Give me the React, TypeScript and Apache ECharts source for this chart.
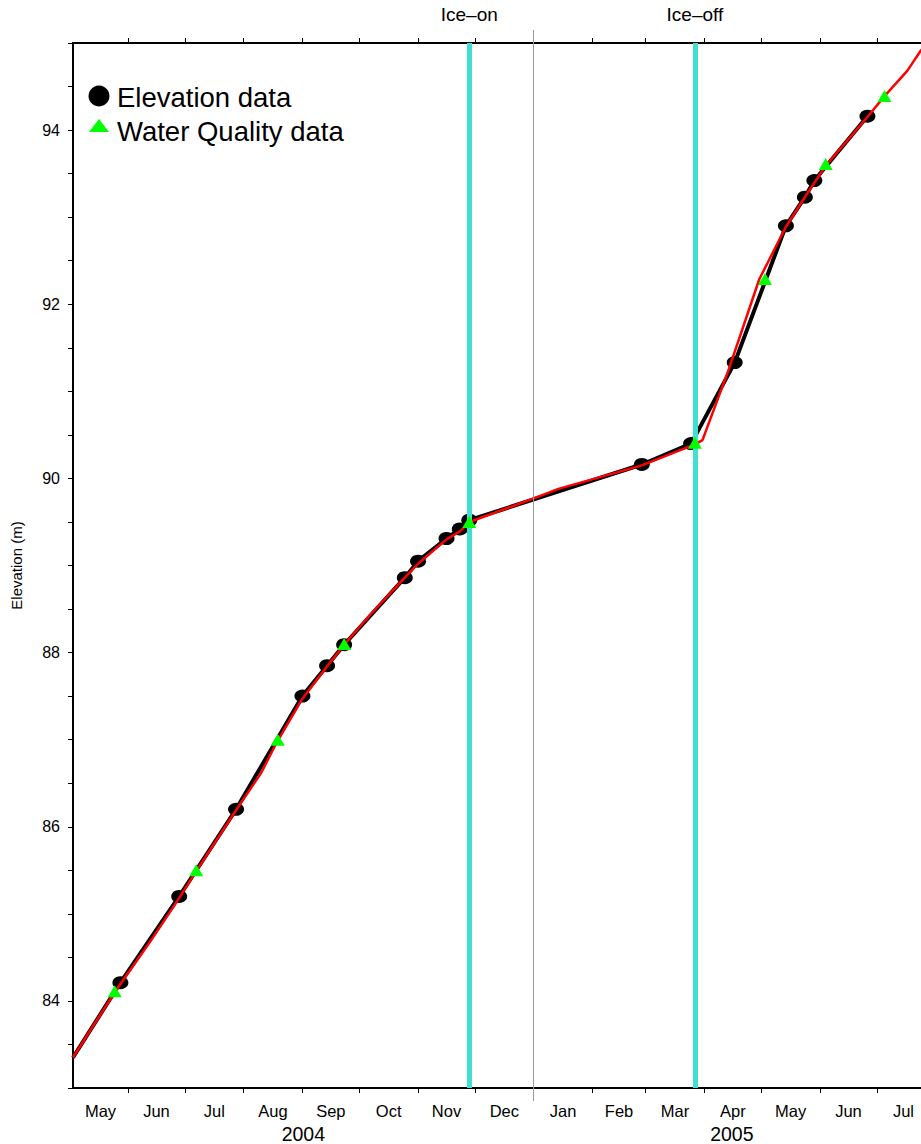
import React, { useEffect, useRef } from "react";
import * as echarts from "echarts";

const FONT = "'Liberation Sans', Arial, Helvetica, sans-serif";
const T = (s: string) => Date.parse(s + "T00:00:00Z");

// Axis range
const axisStart = "2004-05-03";
const axisEnd = "2005-07-29";
const yearBoundary = "2005-01-01";
const monthNames = ["Jan", "Feb", "Mar", "Apr", "May", "Jun", "Jul", "Aug", "Sep", "Oct", "Nov", "Dec"];
const monthStartDates = [
  "2004-06-01", "2004-07-01", "2004-08-01", "2004-09-01", "2004-10-01", "2004-11-01", "2004-12-01",
  "2005-01-01", "2005-02-01", "2005-03-01", "2005-04-01", "2005-05-01", "2005-06-01", "2005-07-01",
];

// Events
const iceOn = "2004-11-28";
const iceOff = "2005-03-27";

// Elevation data (black dots)
const elevDates = [
  "2004-05-28", "2004-06-28", "2004-07-28", "2004-09-01", "2004-09-14", "2004-09-23",
  "2004-10-25", "2004-11-01", "2004-11-16", "2004-11-23", "2004-11-28", "2005-02-27",
  "2005-03-25", "2005-04-17", "2005-05-14", "2005-05-24", "2005-05-29", "2005-06-26",
];
const elevValues = [
  84.21, 85.2, 86.2, 87.5, 87.85, 88.09,
  88.86, 89.05, 89.31, 89.42, 89.52, 90.16,
  90.4, 91.33, 92.9, 93.23, 93.42, 94.16,
];
// Start of the black line at the left frame
const elevLineStart = ["2004-05-03", 83.35] as const;

// Water quality data (green triangles)
const wqDates = [
  "2004-05-25", "2004-07-07", "2004-08-19", "2004-09-23", "2004-11-28",
  "2005-03-27", "2005-05-03", "2005-06-04", "2005-07-05",
];
const wqValues = [84.11, 85.5, 87.0, 88.1, 89.5, 90.41, 92.29, 93.61, 94.39];

// Continuous record (red line)
const redDates = [
  "2004-05-03", "2004-05-25", "2004-06-13", "2004-06-28", "2004-07-07", "2004-07-28",
  "2004-08-10", "2004-08-19", "2004-09-01", "2004-09-14", "2004-09-23", "2004-10-07",
  "2004-10-25", "2004-11-01", "2004-11-16", "2004-11-23", "2004-11-28", "2005-01-01",
  "2005-01-14", "2005-02-27", "2005-03-27", "2005-03-31", "2005-04-14", "2005-04-30",
  "2005-05-04", "2005-05-14", "2005-05-24", "2005-06-04", "2005-06-26", "2005-07-05",
  "2005-07-17", "2005-07-24", "2005-07-29",
];
const redValues = [
  83.35, 84.1, 84.69, 85.18, 85.49, 86.19,
  86.61, 86.99, 87.47, 87.84, 88.09, 88.44,
  88.86, 89.02, 89.3, 89.39, 89.5, 89.77,
  89.88, 90.15, 90.39, 90.44, 91.26, 92.29,
  92.46, 92.89, 93.23, 93.59, 94.15, 94.39,
  94.68, 94.91, 95.0,
];

const yTicks = { min: 83, max: 95, step: 0.5, labelEvery: 2 };

export default function App() {
  const ref = useRef<HTMLDivElement>(null);
  useEffect(() => {
    if (!ref.current) return;
    const chart = echarts.init(ref.current, null, { renderer: "svg" });
    const tMin = T(axisStart);
    const tMax = T(axisEnd);
    const tJan = T(yearBoundary);
    const starts = monthStartDates.map(T);
    const bounds = [tMin, ...starts, tMax];
    const mids: number[] = [];
    for (let i = 0; i < bounds.length - 1; i++) mids.push((bounds[i] + bounds[i + 1]) / 2);
    const yearMids = [(tMin + tJan) / 2, (tJan + tMax) / 2];

    const monthFmt = (v: number) => monthNames[new Date(v).getUTCMonth()];
    const yearFmt = (v: number) => String(new Date(v).getUTCFullYear());

    const elevData = elevDates.map((d, i) => [T(d), elevValues[i]]);
    const elevLine = [[T(elevLineStart[0]), elevLineStart[1]], ...elevData];
    const wqData = wqDates.map((d, i) => [T(d), wqValues[i]]);
    const redData = redDates.map((d, i) => [T(d), redValues[i]]);

    const baseX = { type: "value", min: tMin, max: tMax, splitLine: { show: false } };
    const iceLabel = { show: true, position: "end", formatter: "{b}", fontSize: 19, color: "#000", distance: 19, fontFamily: FONT };

    chart.setOption({
      animation: false,
      textStyle: { fontFamily: FONT },
      grid: { left: 73, top: 43, right: 30, bottom: 54, containLabel: false },
      xAxis: [
        {
          ...baseX,
          position: "bottom",
          axisLine: { show: true, lineStyle: { color: "#000", width: 2 } },
          axisTick: { show: true, customValues: starts, length: 5, lineStyle: { color: "#000", width: 1 } },
          axisLabel: { show: true, customValues: mids, formatter: monthFmt, fontSize: 16.5, color: "#000", margin: 14, fontFamily: FONT },
        },
        {
          ...baseX,
          position: "bottom",
          axisLine: { show: false },
          axisTick: { show: false },
          axisLabel: { show: true, customValues: yearMids, formatter: yearFmt, fontSize: 19.5, color: "#000", margin: 36, fontFamily: FONT },
        },
        {
          ...baseX,
          position: "top",
          axisLine: { show: true, lineStyle: { color: "#000", width: 2 } },
          axisTick: { show: true, customValues: starts, length: 5, lineStyle: { color: "#000", width: 1 } },
          axisLabel: { show: false },
        },
        {
          ...baseX,
          position: "bottom",
          axisLine: { show: false },
          axisTick: { show: true, customValues: [tJan], length: 13, lineStyle: { color: "#999", width: 1 } },
          axisLabel: { show: false },
        },
        {
          ...baseX,
          position: "top",
          axisLine: { show: false },
          axisTick: { show: true, customValues: [tJan], length: 13, lineStyle: { color: "#999", width: 1 } },
          axisLabel: { show: false },
        },
      ],
      yAxis: {
        type: "value",
        min: yTicks.min,
        max: yTicks.max,
        interval: yTicks.step,
        position: "left",
        name: "Elevation (m)",
        nameLocation: "middle",
        nameGap: 49,
        nameTextStyle: { fontSize: 15, color: "#000", fontFamily: FONT },
        axisLine: { show: true, lineStyle: { color: "#000", width: 2 } },
        axisTick: { show: true, length: 5, lineStyle: { color: "#000", width: 1 } },
        axisLabel: {
          fontSize: 16,
          color: "#000",
          margin: 13,
          fontFamily: FONT,
          formatter: (v: number) => (Math.abs(v % yTicks.labelEvery) < 1e-9 ? String(v) : ""),
        },
        splitLine: { show: false },
      },
      graphic: [
        { type: "circle", shape: { cx: 99, cy: 96, r: 10.5 }, style: { fill: "#000" } },
        { type: "polygon", shape: { points: [[89, 132], [109, 132], [99, 119]] }, style: { fill: "#00ff00" } },
        { type: "text", x: 117, y: 97, style: { text: "Elevation data", fontSize: 27.5, fontFamily: FONT, fill: "#000", verticalAlign: "middle" } },
        { type: "text", x: 117, y: 131, style: { text: "Water Quality data", fontSize: 27.5, fontFamily: FONT, fill: "#000", verticalAlign: "middle" } },
      ],
      series: [
        {
          type: "line",
          name: "markers",
          data: redData,
          symbol: "none",
          lineStyle: { opacity: 0 },
          silent: true,
          z: 1,
          markLine: {
            silent: true,
            symbol: ["none", "none"],
            animation: false,
            data: [
              { xAxis: tJan, lineStyle: { color: "#999", width: 1, type: "solid" }, label: { show: false } },
              { name: "Ice–on", xAxis: T(iceOn), lineStyle: { color: "#40e0d0", width: 5, type: "solid" }, label: iceLabel },
              { name: "Ice–off", xAxis: T(iceOff), lineStyle: { color: "#40e0d0", width: 5, type: "solid" }, label: iceLabel },
            ],
          },
        },
        {
          type: "line",
          name: "Elevation line",
          data: elevLine,
          symbol: "none",
          lineStyle: { color: "#000", width: 4 },
          clip: true,
          z: 2,
        },
        {
          type: "scatter",
          name: "Elevation data",
          data: elevData,
          symbol: "circle",
          symbolSize: [16, 13],
          itemStyle: { color: "#000", opacity: 1 },
          z: 3,
        },
        {
          type: "line",
          name: "Continuous",
          data: redData,
          symbol: "none",
          lineStyle: { color: "#ff0000", width: 2.5 },
          clip: true,
          z: 4,
        },
        {
          type: "scatter",
          name: "Water Quality data",
          data: wqData,
          symbol: "triangle",
          symbolSize: [14, 12],
          itemStyle: { color: "#00ff00", opacity: 1 },
          z: 5,
        },
      ],
    });
    return () => chart.dispose();
  }, []);
  return (
    <div style={{ position: "fixed", left: 0, top: 0, width: 921, height: 1144, overflow: "hidden", background: "#fff" }}>
      <div ref={ref} style={{ width: 960, height: 1144 }} />
    </div>
  );
}
